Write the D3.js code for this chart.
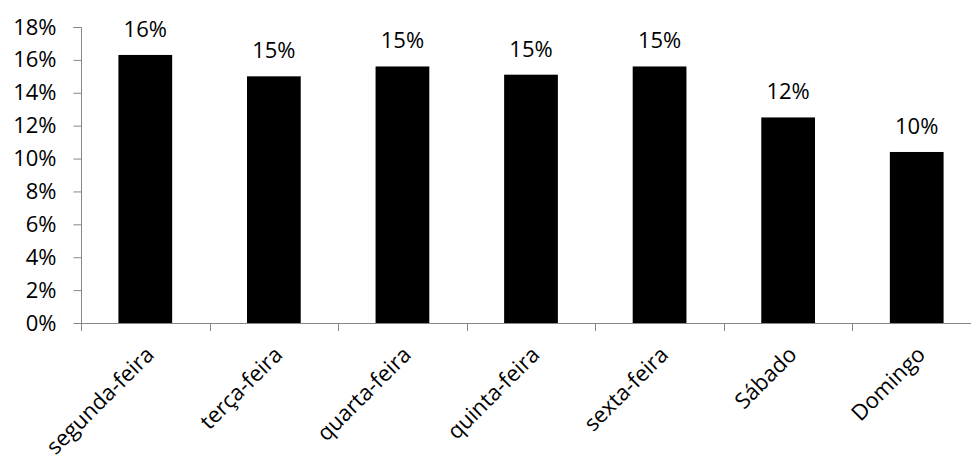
<!DOCTYPE html>
<html>
<head>
<meta charset="utf-8">
<script src="https://cdn.jsdelivr.net/npm/d3@7"></script>
<style>
  html, body { margin: 0; padding: 0; background: #fff; }
  svg { display: block; }
  text { font-family: "Open Sans", sans-serif; fill: #000; }
</style>
</head>
<body>
<svg id="chart" width="971" height="459"></svg>
<script>
const categories = ["segunda-feira", "terça-feira", "quarta-feira", "quinta-feira", "sexta-feira", "Sábado", "Domingo"];
const values = [0.163, 0.150, 0.156, 0.151, 0.156, 0.125, 0.104];
const dataLabels = ["16%", "15%", "15%", "15%", "15%", "12%", "10%"];
const yTicks = [0, 0.02, 0.04, 0.06, 0.08, 0.10, 0.12, 0.14, 0.16, 0.18];

(function () {
const svg = d3.select("#chart");
const pLeft = 81, pRight = 981, pTop = 27, pBottom = 323;
const axisColor = "#868686";
const fontSize = 22;

const x = d3.scaleBand().domain(categories).range([pLeft, pRight]).paddingInner(0.582).paddingOuter(0.291);
const xb = d3.scaleBand().domain(categories).range([pLeft, pRight]);
const y = d3.scaleLinear().domain([0, 0.18]).range([pBottom, pTop]);

// bars
svg.append("g").selectAll("rect").data(values).join("rect")
  .attr("x", (d, i) => x(categories[i]))
  .attr("width", x.bandwidth())
  .attr("y", d => y(d))
  .attr("height", d => y(0) - y(d))
  .attr("fill", "#000");

// y axis
const yAxis = svg.append("g").attr("transform", `translate(${pLeft + 0.5},0)`)
  .call(d3.axisLeft(y).tickValues(yTicks).tickSize(8).tickPadding(17).tickFormat(d3.format(".0%")));
yAxis.select(".domain").attr("stroke", axisColor).attr("d", `M-8,${pTop + 0.5}H0V${pBottom + 0.5}`);
yAxis.selectAll(".tick line").attr("stroke", axisColor);
yAxis.selectAll(".tick text").style("font-size", fontSize + "px").attr("font-family", "Open Sans").attr("fill", "#000");

// x axis line + ticks at band boundaries
const xg = svg.append("g");
xg.append("line").attr("x1", pLeft).attr("x2", pRight).attr("y1", pBottom + 0.5).attr("y2", pBottom + 0.5)
  .attr("stroke", axisColor);
const boundaries = categories.map(c => xb(c)).concat([pRight]);
xg.selectAll("line.tk").data(boundaries).join("line").attr("class", "tk")
  .attr("x1", d => Math.round(d) + 0.5).attr("x2", d => Math.round(d) + 0.5)
  .attr("y1", pBottom).attr("y2", pBottom + 8).attr("stroke", axisColor);

// category labels
xg.selectAll("text.cat").data(categories).join("text").attr("class", "cat")
  .attr("transform", d => `translate(${xb(d) + xb.bandwidth() / 2 + 10},${pBottom + 33}) rotate(-45)`)
  .attr("text-anchor", "end")
  .style("font-size", fontSize + "px")
  .text(d => d);

// data labels
svg.append("g").selectAll("text").data(values).join("text")
  .attr("x", (d, i) => x(categories[i]) + x.bandwidth() / 2)
  .attr("y", d => y(d) - 18)
  .attr("text-anchor", "middle")
  .style("font-size", fontSize + "px")
  .text((d, i) => dataLabels[i]);
})();
</script>
</body>
</html>
